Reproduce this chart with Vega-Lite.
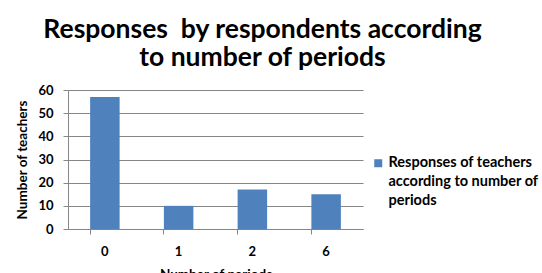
{
  "$schema": "https://vega.github.io/schema/vega-lite/v6.json",
  "autosize": "none",
  "width": 295,
  "height": 139,
  "padding": {"left": 68, "top": 90, "right": 179, "bottom": 44},
  "background": "white",
  "title": {
    "text": ["Responses\u00a0 by respondents according", "to number of periods"],
    "font": "Lato",
    "fontWeight": "bold",
    "fontSize": 26.5,
    "lineHeight": 28,
    "color": "#000000",
    "anchor": "middle",
    "frame": "group",
    "dx": 47,
    "offset": 13
  },
  "data": {
    "values": [
      {"periods": "0", "teachers": 57, "series": "Responses of teachers according to number of periods"},
      {"periods": "1", "teachers": 10, "series": "Responses of teachers according to number of periods"},
      {"periods": "2", "teachers": 17, "series": "Responses of teachers according to number of periods"},
      {"periods": "6", "teachers": 15, "series": "Responses of teachers according to number of periods"}
    ]
  },
  "mark": {"type": "bar", "color": "#4F81BD"},
  "encoding": {
    "x": {
      "field": "periods",
      "type": "ordinal",
      "scale": {"paddingInner": 0.6, "paddingOuter": 0.3},
      "axis": {
        "title": "Number of periods",
        "labelAngle": 0,
        "bandPosition": 0,
        "grid": false,
        "tickSize": 5,
        "labelPadding": 11,
        "titlePadding": 9
      }
    },
    "y": {
      "field": "teachers",
      "type": "quantitative",
      "scale": {"domain": [0, 60], "nice": false},
      "axis": {
        "title": "Number of teachers",
        "values": [0, 10, 20, 30, 40, 50, 60],
        "tickSize": 5,
        "labelPadding": 10,
        "titlePadding": 8,
        "grid": true
      }
    },
    "color": {
      "field": "series",
      "type": "nominal",
      "scale": {"range": ["#4F81BD"]},
      "legend": {
        "title": null,
        "orient": "none",
        "legendX": 303,
        "legendY": 66,
        "padding": 0,
        "symbolType": "square",
        "symbolSize": 64,
        "symbolStrokeWidth": 0,
        "labelOffset": 3,
        "labelLimit": 300,
        "labelExpr": "['Responses of teachers', 'according to number of', 'periods']"
      }
    }
  },
  "config": {
    "view": {"stroke": null},
    "axis": {
      "labelFont": "Lato",
      "labelFontWeight": "bold",
      "labelFontSize": 13,
      "labelColor": "#000000",
      "titleFont": "Lato",
      "titleFontWeight": "bold",
      "titleFontSize": 13.5,
      "titleColor": "#000000",
      "domainColor": "#868686",
      "tickColor": "#868686",
      "gridColor": "#868686",
      "gridOpacity": 1
    },
    "legend": {
      "labelFont": "Lato",
      "labelFontWeight": "bold",
      "labelFontSize": 14.5,
      "labelColor": "#000000"
    },
    "style": {"guide-label": {"lineHeight": 19}}
  }
}
